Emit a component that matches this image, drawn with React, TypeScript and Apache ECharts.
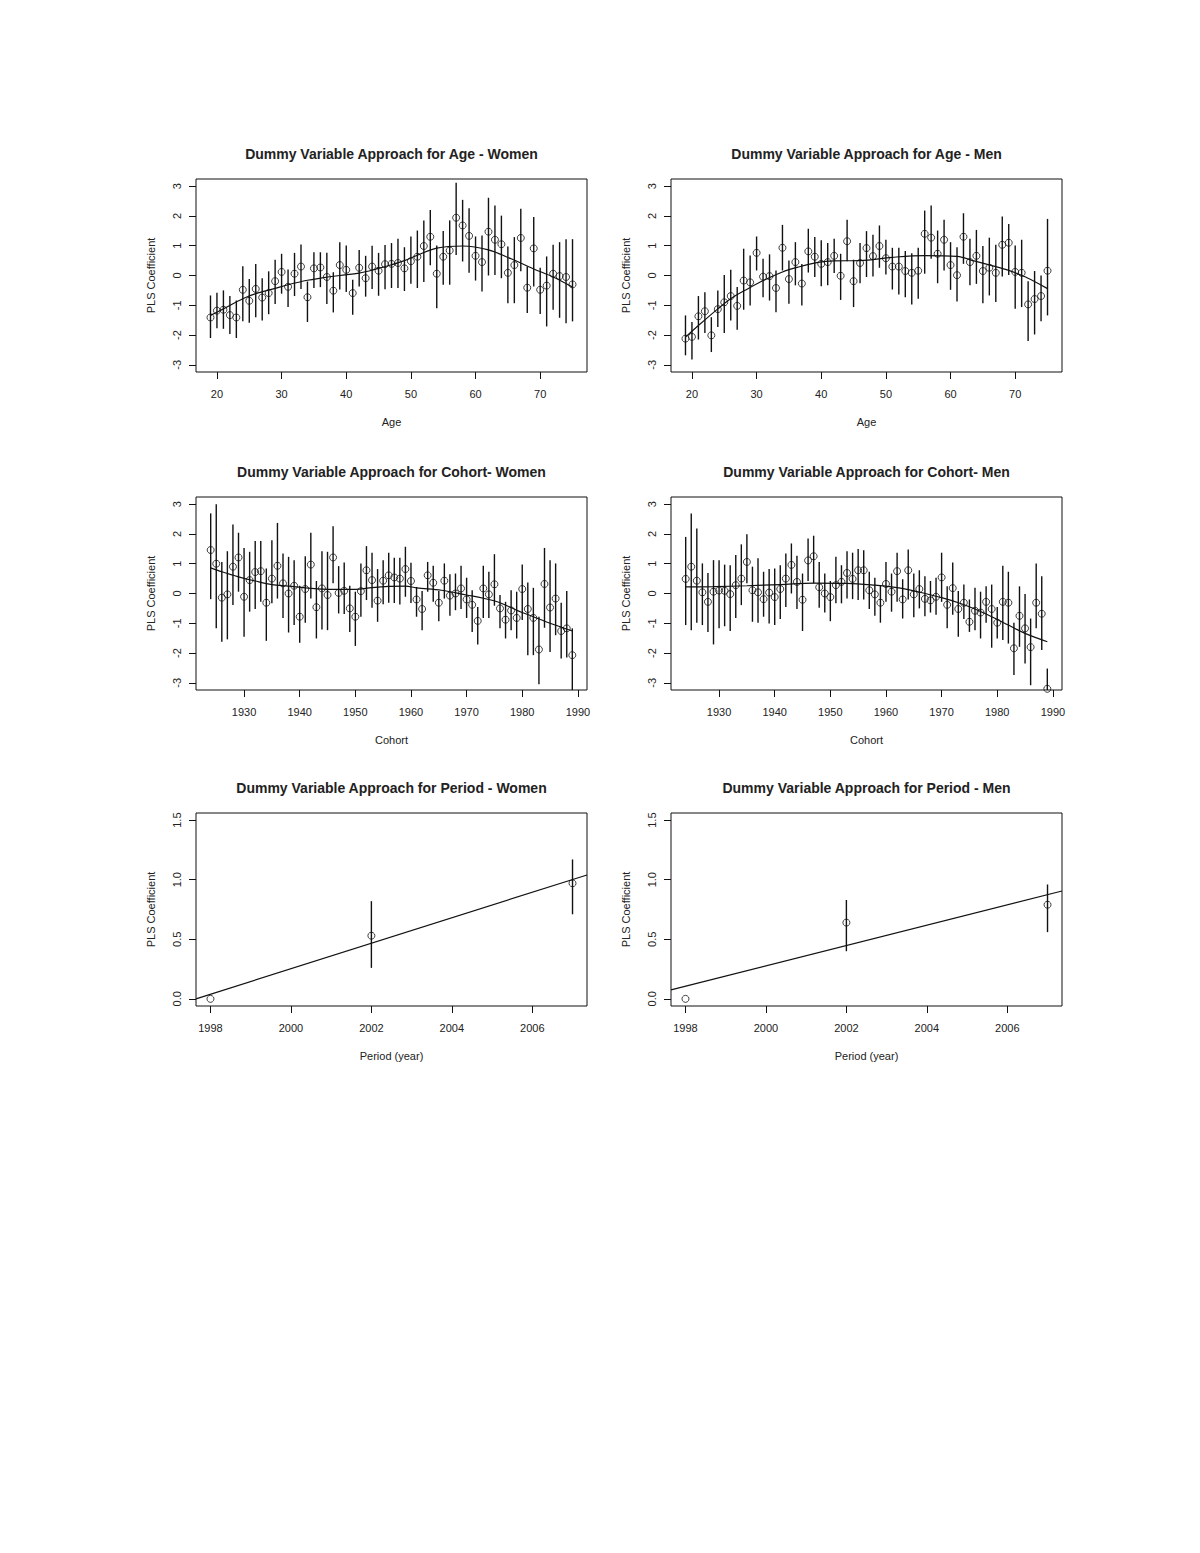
import React, { useEffect, useRef } from "react";
import * as echarts from "echarts";

// ---------- DATA ----------
const ageYears = [19,20,21,22,23,24,25,26,27,28,29,30,31,32,33,34,35,36,37,38,39,40,41,42,43,44,45,46,47,48,49,50,51,52,53,54,55,56,57,58,59,60,61,62,63,64,65,66,67,68,69,70,71,72,73,74,75];

const womenAgeCoef = [-1.41,-1.18,-1.15,-1.33,-1.41,-0.48,-0.85,-0.45,-0.74,-0.59,-0.19,0.12,-0.38,0.06,0.30,-0.73,0.24,0.27,-0.05,-0.51,0.35,0.19,-0.59,0.26,-0.09,0.30,0.16,0.38,0.39,0.42,0.24,0.48,0.63,0.99,1.30,0.06,0.63,0.84,1.94,1.68,1.33,0.66,0.45,1.47,1.20,1.05,0.09,0.35,1.26,-0.41,0.91,-0.48,-0.34,0.06,-0.02,-0.05,-0.30];
const womenAgeLo = [-2.10,-1.77,-1.79,-1.96,-2.10,-1.54,-1.59,-1.40,-1.51,-1.30,-0.96,-0.61,-1.06,-0.69,-0.45,-1.56,-0.42,-0.39,-0.96,-1.24,-0.47,-0.55,-1.32,-0.37,-0.71,-0.45,-0.68,-0.46,-0.42,-0.42,-0.52,-0.28,-0.42,-0.22,0.34,-1.10,-0.31,-0.31,0.69,0.47,0.09,-0.17,-0.54,0.00,0.02,-0.09,-0.93,-0.93,0.14,-1.26,-0.37,-1.29,-1.71,-1.15,-1.42,-1.60,-1.54];
const womenAgeHi = [-0.67,-0.58,-0.50,-0.69,-0.84,0.31,-0.12,0.39,-0.09,0.14,0.53,0.73,0.20,0.76,1.04,-0.20,0.78,0.78,0.76,0.11,1.12,1.01,-0.14,0.86,0.66,1.00,0.76,1.02,1.09,1.23,0.95,1.31,1.51,1.85,2.20,1.01,1.49,1.85,3.11,2.54,2.26,1.31,1.34,2.61,2.35,2.01,0.97,1.29,2.24,0.30,1.96,0.26,0.64,1.03,1.12,1.22,1.22];
const womenAgeCurveX = [19,21,24,26,29,31,34,36,39,42,45,47,49,51,54,58,62,65.5,69,72,75];
const womenAgeCurveY = [-1.34,-1.12,-0.78,-0.61,-0.43,-0.31,-0.16,-0.09,0.0,0.08,0.24,0.36,0.5,0.68,0.92,0.99,0.86,0.56,0.22,-0.05,-0.39];

const menAgeCoef = [-2.12,-2.06,-1.37,-1.20,-2.01,-1.13,-0.90,-0.69,-1.02,-0.17,-0.23,0.76,-0.04,-0.02,-0.42,0.93,-0.12,0.45,-0.27,0.81,0.63,0.39,0.45,0.66,-0.01,1.15,-0.19,0.42,0.92,0.65,0.99,0.58,0.30,0.30,0.15,0.09,0.16,1.40,1.27,0.73,1.20,0.35,0.01,1.30,0.45,0.66,0.15,0.26,0.09,1.03,1.10,0.12,0.09,-0.97,-0.79,-0.69,0.16];
const menAgeLo = [-2.68,-2.82,-2.15,-1.93,-2.57,-1.73,-1.93,-1.51,-1.82,-1.15,-1.01,0.17,-0.73,-0.84,-1.23,0.17,-0.95,-0.33,-1.01,0.10,-0.05,-0.36,-0.33,0.08,-0.82,0.48,-1.06,-0.26,-0.05,-0.03,0.26,0.03,-0.47,-0.64,-0.73,-0.97,-0.78,0.06,0.56,-0.26,0.17,-0.48,-0.87,0.39,-0.33,-0.28,-0.93,-0.67,-0.89,-0.03,0.02,-1.12,-1.06,-2.20,-1.98,-1.54,-1.34];
const menAgeHi = [-1.34,-1.56,-0.69,-0.56,-1.40,-0.50,0.02,0.19,-0.39,0.90,0.67,1.31,0.56,0.71,0.17,1.70,0.50,1.12,0.39,1.57,1.29,1.18,1.09,1.23,0.73,1.87,0.53,1.09,1.49,1.37,1.68,1.20,0.93,0.93,0.82,0.75,0.93,2.18,2.35,1.51,1.87,1.12,0.95,2.09,1.23,1.53,0.99,1.27,1.03,1.98,1.73,1.01,1.20,-0.19,0.15,0.00,1.90];
const menAgeCurveX = [19,21,24,26,28.6,31.3,33.9,36.4,39.5,42,46,51,56,61,63.8,66.4,69,71.6,75];
const menAgeCurveY = [-2.07,-1.68,-1.12,-0.78,-0.45,-0.14,0.11,0.28,0.44,0.49,0.50,0.61,0.67,0.64,0.48,0.33,0.17,-0.05,-0.44];

const cohortYears = [1924,1925,1926,1927,1928,1929,1930,1931,1932,1933,1934,1935,1936,1937,1938,1939,1940,1941,1942,1943,1944,1945,1946,1947,1948,1949,1950,1951,1952,1953,1954,1955,1956,1957,1958,1959,1960,1961,1962,1963,1964,1965,1966,1967,1968,1969,1970,1971,1972,1973,1974,1975,1976,1977,1978,1979,1980,1981,1982,1983,1984,1985,1986,1987,1988,1989];

const womenCohortCoef = [1.46,1.00,-0.14,-0.03,0.90,1.21,-0.11,0.45,0.72,0.75,-0.31,0.50,0.93,0.34,0.00,0.26,-0.78,0.15,0.97,-0.46,0.17,-0.05,1.21,0.02,0.09,-0.50,-0.78,0.08,0.78,0.45,-0.24,0.43,0.61,0.54,0.50,0.82,0.42,-0.20,-0.52,0.61,0.36,-0.31,0.43,-0.07,0.00,0.17,-0.20,-0.38,-0.92,0.17,-0.03,0.31,-0.50,-0.88,-0.57,-0.82,0.15,-0.52,-0.82,-1.88,0.32,-0.47,-0.17,-1.26,-1.17,-2.07];
const womenCohortLo = [-0.19,-1.17,-1.62,-1.54,-0.39,0.06,-1.45,-0.61,-0.52,-0.28,-1.59,-0.33,-0.17,-0.82,-1.31,-1.06,-1.65,-0.98,-0.17,-1.51,-1.21,-1.23,0.34,-0.67,-0.69,-1.29,-1.76,-0.78,-0.22,-0.48,-0.95,-0.36,-0.31,-0.32,-0.37,-0.11,-0.32,-0.78,-1.23,0.06,-0.28,-0.93,-0.17,-0.75,-0.56,-0.52,-0.82,-1.29,-1.71,-0.82,-0.82,-0.41,-1.17,-1.51,-1.23,-1.51,-0.89,-2.07,-2.07,-3.05,-1.15,-1.96,-1.40,-2.18,-2.15,-3.6];
const womenCohortHi = [2.69,3.00,1.06,1.42,2.32,2.04,1.53,1.40,1.76,1.76,0.84,1.79,2.37,1.34,1.23,1.12,0.26,1.25,2.04,0.42,1.42,1.40,2.26,0.92,1.04,0.26,0.06,1.01,1.59,1.37,0.82,1.12,1.37,1.20,1.20,1.57,1.03,0.22,0.08,1.06,0.93,0.08,1.01,0.65,0.67,0.93,0.53,0.11,-0.45,0.93,0.73,1.32,-0.05,-0.28,0.11,0.06,0.97,0.37,0.19,-0.78,1.53,1.12,1.01,-0.31,0.08,-1.17];
const womenCohortCurveX = [1924,1926,1929,1932,1935,1938,1941,1944,1947,1950,1953,1956,1959,1961,1965.5,1970,1973,1976,1979,1982,1985,1989];
const womenCohortCurveY = [0.86,0.73,0.56,0.42,0.30,0.25,0.19,0.15,0.14,0.14,0.20,0.24,0.25,0.19,0.11,-0.05,-0.16,-0.31,-0.56,-0.78,-1.00,-1.26];

const menCohortCoef = [0.49,0.90,0.43,0.04,-0.28,0.06,0.10,0.09,-0.02,0.28,0.50,1.06,0.11,0.04,-0.19,0.03,-0.12,0.15,0.50,0.96,0.39,-0.21,1.11,1.25,0.21,0.00,-0.12,0.28,0.39,0.69,0.49,0.78,0.78,0.11,-0.03,-0.31,0.32,0.06,0.75,-0.20,0.78,-0.03,0.15,-0.18,-0.23,-0.11,0.54,-0.38,0.18,-0.52,-0.31,-0.95,-0.58,-0.64,-0.28,-0.52,-0.98,-0.28,-0.31,-1.84,-0.75,-1.17,-1.80,-0.31,-0.68,-3.2];
const menCohortLo = [-1.06,-1.23,-0.98,-1.06,-1.29,-1.71,-1.17,-1.10,-1.26,-0.82,-0.39,0.34,-0.95,-0.98,-0.78,-1.01,-1.06,-0.86,-0.45,0.00,-0.52,-1.26,0.42,0.34,-0.48,-0.64,-0.93,-0.33,-0.33,-0.17,-0.19,-0.22,-0.20,-0.52,-0.75,-0.98,-0.28,-0.61,-0.28,-0.84,-0.20,-0.80,-0.50,-0.76,-0.64,-0.71,-0.28,-1.17,-0.71,-1.45,-0.86,-1.29,-1.23,-1.51,-0.98,-1.82,-1.51,-1.56,-1.68,-2.74,-1.79,-2.35,-3.08,-1.17,-1.90,-3.6];
const menCohortHi = [1.90,2.69,2.18,1.01,0.69,1.12,1.12,0.97,0.95,1.29,1.65,1.99,0.90,1.18,0.73,0.82,0.84,0.95,1.34,1.68,1.27,0.67,1.85,1.94,1.06,0.67,0.42,1.23,0.95,1.42,1.37,1.49,1.45,0.73,0.53,0.28,1.06,0.67,1.37,0.48,1.48,0.67,0.78,0.58,0.42,0.53,1.37,0.24,1.04,0.08,0.30,-0.20,0.19,0.06,0.24,0.30,-0.45,0.93,0.73,-0.98,0.24,-0.02,-0.84,1.01,0.58,-2.52];
const menCohortCurveX = [1924,1929,1935,1941,1947,1953,1958,1961,1964,1967,1970,1973,1976,1979,1982,1985,1989];
const menCohortCurveY = [0.22,0.23,0.26,0.30,0.35,0.34,0.28,0.22,0.13,0.0,-0.14,-0.31,-0.52,-0.78,-1.06,-1.34,-1.62];

const periodYears = [1998, 2002, 2007];
const womenPeriodCoef = [0.0, 0.53, 0.97];
const womenPeriodLo = [null, 0.26, 0.71];
const womenPeriodHi = [null, 0.82, 1.17];
const womenPeriodFitX = [1997.64, 2007.36];
const womenPeriodFitY = [0.0, 1.04];

const menPeriodCoef = [0.0, 0.64, 0.79];
const menPeriodLo = [null, 0.40, 0.56];
const menPeriodHi = [null, 0.83, 0.96];
const menPeriodFitX = [1997.64, 2007.36];
const menPeriodFitY = [0.075, 0.905];

const coefTicks = [-3, -2, -1, 0, 1, 2, 3];
const ageTicks = [20, 30, 40, 50, 60, 70];
const cohortTicks = [1930, 1940, 1950, 1960, 1970, 1980, 1990];
const periodTicks = [1998, 2000, 2002, 2004, 2006];
const periodCoefTicks = [0, 0.5, 1.0, 1.5];

// ---------- BUILD ----------
const FONT = "'Liberation Sans', Arial, sans-serif";
const TXT = "#222";
const INK = "#111";

type Panel = {
  title: string; left: number; top: number; xName: string;
  xMin: number; xMax: number; xTicks: number[];
  yMin: number; yMax: number; yTicks: number[]; yFmt: (v: number) => string;
  xs: number[]; ys: number[]; lo: (number | null)[]; hi: (number | null)[];
  cx: number[]; cy: number[]; smooth: boolean;
};

const COLS = [196, 671];
const ROWS = [179, 497, 813];
const W = 391, H = 193;

const plain = (v: number) => String(v);

const panels: Panel[] = [
  { title: "Dummy Variable Approach for Age - Women", left: COLS[0], top: ROWS[0], xName: "Age",
    xMin: 16.76, xMax: 77.24, xTicks: ageTicks, yMin: -3.24, yMax: 3.24, yTicks: coefTicks, yFmt: plain,
    xs: ageYears, ys: womenAgeCoef, lo: womenAgeLo, hi: womenAgeHi, cx: womenAgeCurveX, cy: womenAgeCurveY, smooth: true },
  { title: "Dummy Variable Approach for Age - Men", left: COLS[1], top: ROWS[0], xName: "Age",
    xMin: 16.76, xMax: 77.24, xTicks: ageTicks, yMin: -3.24, yMax: 3.24, yTicks: coefTicks, yFmt: plain,
    xs: ageYears, ys: menAgeCoef, lo: menAgeLo, hi: menAgeHi, cx: menAgeCurveX, cy: menAgeCurveY, smooth: true },
  { title: "Dummy Variable Approach for Cohort- Women", left: COLS[0], top: ROWS[1], xName: "Cohort",
    xMin: 1921.36, xMax: 1991.64, xTicks: cohortTicks, yMin: -3.24, yMax: 3.24, yTicks: coefTicks, yFmt: plain,
    xs: cohortYears, ys: womenCohortCoef, lo: womenCohortLo, hi: womenCohortHi, cx: womenCohortCurveX, cy: womenCohortCurveY, smooth: true },
  { title: "Dummy Variable Approach for Cohort- Men", left: COLS[1], top: ROWS[1], xName: "Cohort",
    xMin: 1921.36, xMax: 1991.64, xTicks: cohortTicks, yMin: -3.24, yMax: 3.24, yTicks: coefTicks, yFmt: plain,
    xs: cohortYears, ys: menCohortCoef, lo: menCohortLo, hi: menCohortHi, cx: menCohortCurveX, cy: menCohortCurveY, smooth: true },
  { title: "Dummy Variable Approach for Period - Women", left: COLS[0], top: ROWS[2], xName: "Period (year)",
    xMin: 1997.64, xMax: 2007.36, xTicks: periodTicks, yMin: -0.06, yMax: 1.56, yTicks: periodCoefTicks, yFmt: (v) => v.toFixed(1),
    xs: periodYears, ys: womenPeriodCoef, lo: womenPeriodLo, hi: womenPeriodHi, cx: womenPeriodFitX, cy: womenPeriodFitY, smooth: false },
  { title: "Dummy Variable Approach for Period - Men", left: COLS[1], top: ROWS[2], xName: "Period (year)",
    xMin: 1997.64, xMax: 2007.36, xTicks: periodTicks, yMin: -0.06, yMax: 1.56, yTicks: periodCoefTicks, yFmt: (v) => v.toFixed(1),
    xs: periodYears, ys: menPeriodCoef, lo: menPeriodLo, hi: menPeriodHi, cx: menPeriodFitX, cy: menPeriodFitY, smooth: false },
];

function buildOption() {
  const grid: any[] = [];
  const xAxis: any[] = [];
  const yAxis: any[] = [];
  const series: any[] = [];
  const title: any[] = [];

  panels.forEach((p, i) => {
    grid.push({ left: p.left, top: p.top, width: W, height: H, show: true, borderColor: INK, borderWidth: 1, backgroundColor: "transparent", containLabel: false });
    title.push({ text: p.title, left: p.left + W / 2, top: p.top - 32, textAlign: "center", padding: 0,
      textStyle: { fontFamily: FONT, fontSize: 14, fontWeight: "bold", color: TXT } });
    xAxis.push({
      gridIndex: i, type: "value", min: p.xMin, max: p.xMax, position: "bottom",
      axisLine: { show: false, onZero: false },
      axisTick: { show: true, customValues: p.xTicks, length: 7, lineStyle: { color: INK, width: 1 } },
      axisLabel: { customValues: p.xTicks, margin: 16, fontFamily: FONT, fontSize: 11, color: TXT, formatter: plain },
      splitLine: { show: false },
      name: p.xName, nameLocation: "middle", nameGap: 44,
      nameTextStyle: { fontFamily: FONT, fontSize: 11, color: TXT },
    });
    yAxis.push({
      gridIndex: i, type: "value", min: p.yMin, max: p.yMax, position: "left",
      axisLine: { show: false, onZero: false },
      axisTick: { show: true, customValues: p.yTicks, length: 7, lineStyle: { color: INK, width: 1 } },
      axisLabel: { customValues: p.yTicks, rotate: 90, margin: 14, fontFamily: FONT, fontSize: 11, color: TXT, formatter: p.yFmt },
      splitLine: { show: false },
      name: "PLS Coefficient", nameLocation: "middle", nameGap: 40, nameRotate: 90,
      nameTextStyle: { fontFamily: FONT, fontSize: 11, color: TXT },
    });

    const barData: any[] = [];
    p.xs.forEach((x, k) => {
      const lo = p.lo[k], hi = p.hi[k];
      if (lo !== null && hi !== null && lo !== undefined && hi !== undefined) barData.push([x, lo, hi]);
    });
    const yMin = p.yMin, yMax = p.yMax;
    series.push({
      type: "custom", xAxisIndex: i, yAxisIndex: i, data: barData, clip: true,
      encode: { x: 0, y: [1, 2] },
      renderItem: (params: any, api: any) => {
        const x = api.value(0);
        const lo = Math.max(api.value(1), yMin);
        const hi = Math.min(api.value(2), yMax);
        const a = api.coord([x, lo]);
        const b = api.coord([x, hi]);
        return { type: "line", shape: { x1: a[0], y1: a[1], x2: b[0], y2: b[1] }, style: { stroke: INK, lineWidth: 1.4 } };
      },
      z: 2,
    });
    series.push({
      type: "line", xAxisIndex: i, yAxisIndex: i, data: p.cx.map((x, k) => [x, p.cy[k]]),
      smooth: p.smooth ? 0.35 : false, showSymbol: false, symbol: "none",
      lineStyle: { color: INK, width: 1.2 }, z: 3, clip: true,
    });
    series.push({
      type: "scatter", xAxisIndex: i, yAxisIndex: i, data: p.xs.map((x, k) => [x, p.ys[k]]),
      symbol: "circle", symbolSize: 7,
      itemStyle: { color: "rgba(255,255,255,0)", borderColor: INK, borderWidth: 1 }, z: 4, clip: true,
    });
  });

  return { animation: false, backgroundColor: "#fff", title, grid, xAxis, yAxis, series };
}

export default function App() {
  const ref = useRef<HTMLDivElement>(null);
  useEffect(() => {
    if (!ref.current) return;
    const chart = echarts.init(ref.current, null, { renderer: "svg" });
    chart.setOption(buildOption());
    return () => chart.dispose();
  }, []);
  return (
    <div
      ref={ref}
      style={{ position: "absolute", left: 0, top: 0, width: 1200, height: 1553, background: "#fff" }}
    />
  );
}
